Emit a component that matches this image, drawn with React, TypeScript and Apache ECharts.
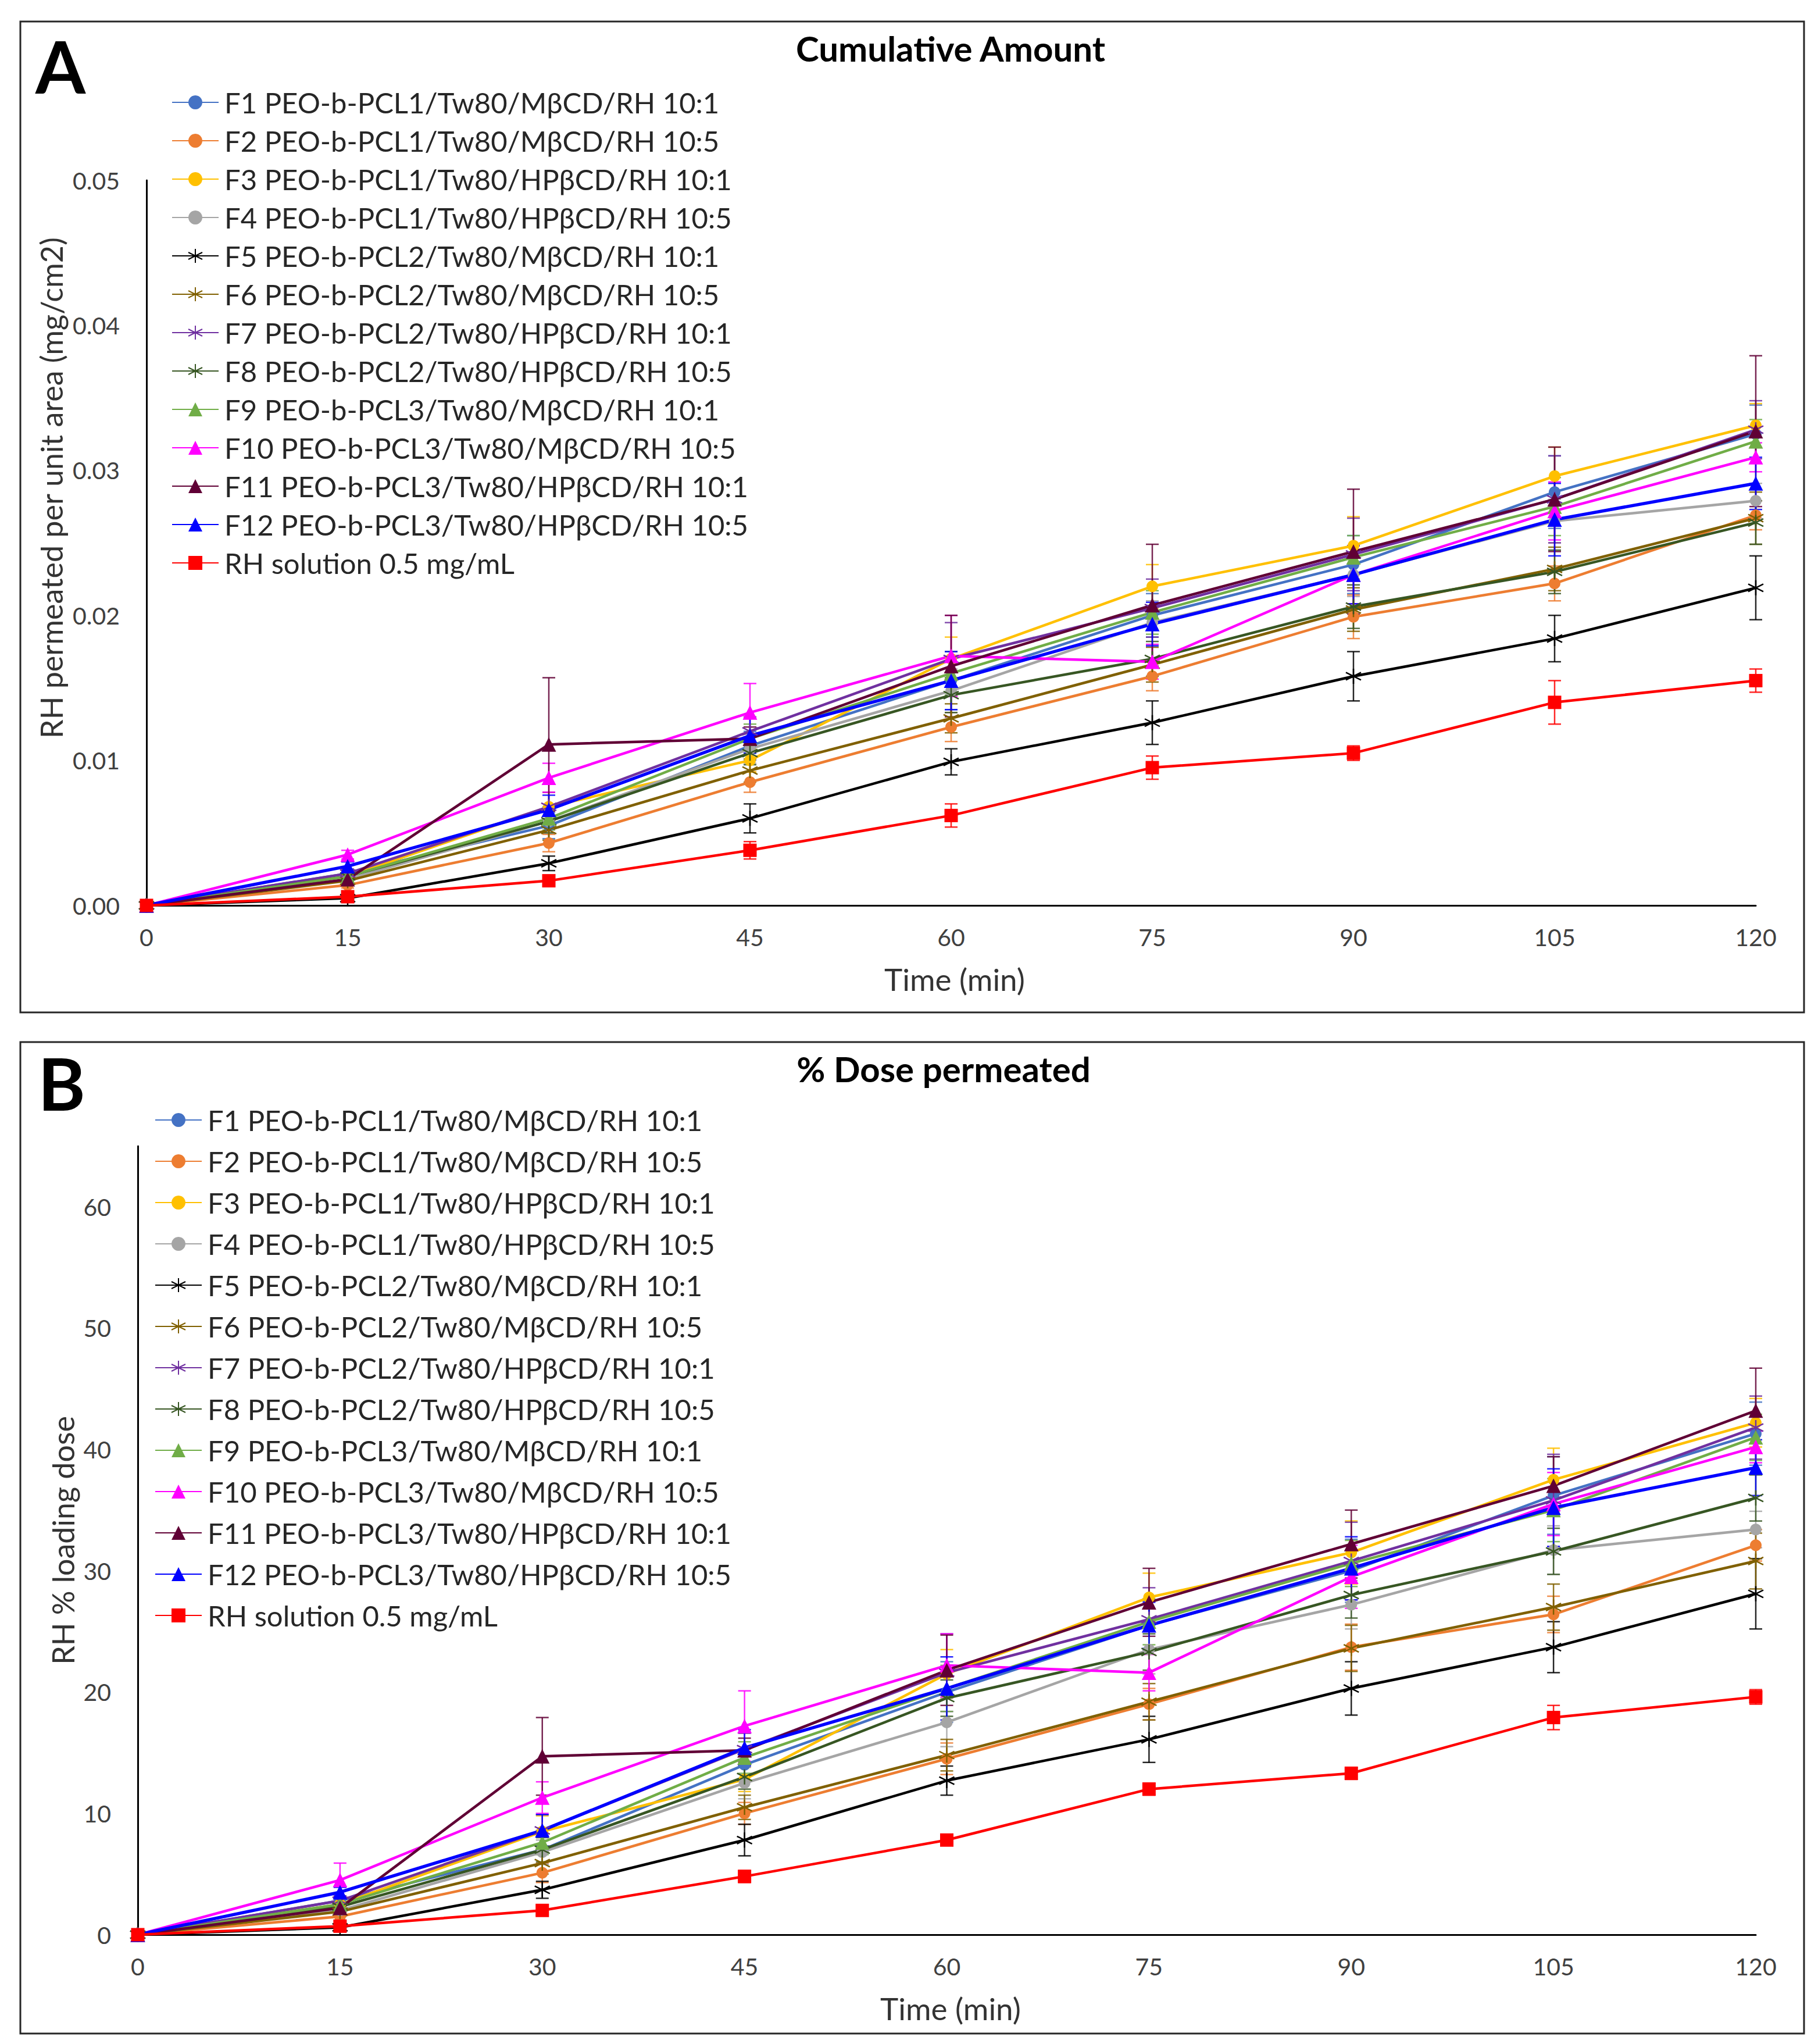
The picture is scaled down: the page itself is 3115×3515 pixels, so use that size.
import React, { useEffect, useRef } from "react";
import * as echarts from "echarts";

// ---------- data ----------
const TIME = [0, 15, 30, 45, 60, 75, 90, 105, 120];
const X_TICKS = [0, 15, 30, 45, 60, 75, 90, 105, 120];

const NAMES = [
  "F1 PEO-b-PCL1/Tw80/MβCD/RH 10:1",
  "F2 PEO-b-PCL1/Tw80/MβCD/RH 10:5",
  "F3 PEO-b-PCL1/Tw80/HPβCD/RH 10:1",
  "F4 PEO-b-PCL1/Tw80/HPβCD/RH 10:5",
  "F5 PEO-b-PCL2/Tw80/MβCD/RH 10:1",
  "F6 PEO-b-PCL2/Tw80/MβCD/RH 10:5",
  "F7 PEO-b-PCL2/Tw80/HPβCD/RH 10:1",
  "F8 PEO-b-PCL2/Tw80/HPβCD/RH 10:5",
  "F9 PEO-b-PCL3/Tw80/MβCD/RH 10:1",
  "F10 PEO-b-PCL3/Tw80/MβCD/RH 10:5",
  "F11 PEO-b-PCL3/Tw80/HPβCD/RH 10:1",
  "F12 PEO-b-PCL3/Tw80/HPβCD/RH 10:5",
  "RH solution 0.5 mg/mL",
];

// Panel A: cumulative amount (mg/cm2)
const A_F1 = [0, 0.0022, 0.0055, 0.011, 0.0155, 0.020, 0.0235, 0.0285, 0.0325];
const A_F2 = [0, 0.0014, 0.0043, 0.0085, 0.0123, 0.0158, 0.0199, 0.0222, 0.0269];
const A_F3 = [0, 0.0020, 0.0068, 0.0100, 0.0170, 0.0220, 0.0248, 0.0296, 0.0331];
const A_F4 = [0, 0.0018, 0.0058, 0.0108, 0.0148, 0.0195, 0.0228, 0.0265, 0.0279];
const A_F5 = [0, 0.0005, 0.0029, 0.0060, 0.0099, 0.0126, 0.0158, 0.0184, 0.0219];
const A_F6 = [0, 0.0017, 0.0052, 0.0093, 0.0129, 0.0166, 0.0204, 0.0232, 0.0267];
const A_F7 = [0, 0.0022, 0.0068, 0.0120, 0.0170, 0.0205, 0.0242, 0.0280, 0.0328];
const A_F8 = [0, 0.0020, 0.0058, 0.0105, 0.0145, 0.0170, 0.0206, 0.0230, 0.0264];
const A_F9 = [0, 0.0020, 0.0060, 0.0115, 0.0160, 0.0202, 0.0240, 0.0275, 0.0320];
const A_F10 = [0, 0.0035, 0.0088, 0.0133, 0.0172, 0.0168, 0.0228, 0.0272, 0.0309];
const A_F11 = [0, 0.0018, 0.0111, 0.0115, 0.0165, 0.0207, 0.0244, 0.0280, 0.0327];
const A_F12 = [0, 0.0027, 0.0066, 0.0117, 0.0155, 0.0194, 0.0228, 0.0266, 0.0291];
const A_RH = [0, 0.0006, 0.0017, 0.0038, 0.0062, 0.0095, 0.0105, 0.0140, 0.0155];

const A_E1 = [0, 0.0003, 0.0009, 0.0010, 0.0020, 0.0015, 0.0020, 0.0025, 0.0020];
const A_E2 = [0, 0.0002, 0.0006, 0.0007, 0.0010, 0.0010, 0.0015, 0.0012, 0.0010];
const A_E3 = [0, 0.0003, 0.0010, 0.0008, 0.0015, 0.0015, 0.0020, 0.0020, 0.0015];
const A_E4 = [0, 0.0003, 0.0008, 0.0010, 0.0015, 0.0015, 0.0015, 0.0015, 0.0012];
const A_E5 = [0, 0.0002, 0.0005, 0.0010, 0.0009, 0.0015, 0.0017, 0.0016, 0.0022];
const A_E6 = [0, 0.0003, 0.0007, 0.0008, 0.0010, 0.0012, 0.0015, 0.0015, 0.0018];
const A_E7 = [0, 0.0003, 0.0010, 0.0010, 0.0025, 0.0020, 0.0025, 0.0030, 0.0020];
const A_E8 = [0, 0.0003, 0.0008, 0.0008, 0.0012, 0.0012, 0.0015, 0.0015, 0.0015];
const A_E9 = [0, 0.0003, 0.0008, 0.0010, 0.0015, 0.0015, 0.0015, 0.0020, 0.0015];
const A_E10 = [0, 0.0003, 0.0010, 0.0020, 0.0028, 0.0012, 0.0020, 0.0020, 0.0010];
const A_E11 = [0, 0.0003, 0.0046, 0.0008, 0.0035, 0.0042, 0.0043, 0.0036, 0.0052];
const A_E12 = [0, 0.0003, 0.0010, 0.0012, 0.0020, 0.0015, 0.0020, 0.0025, 0.0018];
const A_ERH = [0, 0.0002, 0.0003, 0.0006, 0.0008, 0.0008, 0.0005, 0.0015, 0.0008];

// Panel B: % of loading dose
const B_F1 = [0, 2.8, 7.0, 14.0, 20.0, 25.5, 30.0, 36.2, 41.3];
const B_F2 = [0, 1.5, 5.1, 10.0, 14.5, 19.0, 23.7, 26.4, 32.1];
const B_F3 = [0, 2.5, 8.5, 12.8, 21.5, 27.8, 31.5, 37.5, 42.2];
const B_F4 = [0, 2.0, 6.8, 12.5, 17.5, 23.5, 27.2, 31.7, 33.4];
const B_F5 = [0, 0.6, 3.7, 7.8, 12.7, 16.1, 20.3, 23.7, 28.1];
const B_F6 = [0, 1.9, 5.9, 10.5, 14.8, 19.2, 23.6, 27.0, 30.8];
const B_F7 = [0, 2.8, 8.6, 15.3, 21.6, 26.0, 30.8, 35.8, 41.8];
const B_F8 = [0, 2.3, 7.0, 13.0, 19.5, 23.3, 28.0, 31.6, 36.0];
const B_F9 = [0, 2.5, 7.6, 14.6, 20.3, 25.8, 30.6, 35.0, 41.0];
const B_F10 = [0, 4.5, 11.3, 17.2, 22.2, 21.6, 29.5, 35.5, 40.2];
const B_F11 = [0, 2.2, 14.7, 15.2, 21.8, 27.4, 32.2, 37.0, 43.2];
const B_F12 = [0, 3.5, 8.6, 15.4, 20.3, 25.5, 30.2, 35.2, 38.5];
const B_RH = [0, 0.7, 2.0, 4.8, 7.8, 12.0, 13.3, 17.9, 19.6];

const B_E1 = [0, 0.4, 1.2, 1.3, 2.5, 2.0, 2.6, 3.2, 2.6];
const B_E2 = [0, 0.3, 0.8, 0.9, 1.3, 1.3, 1.9, 1.5, 1.3];
const B_E3 = [0, 0.4, 1.3, 1.0, 2.0, 2.0, 2.6, 2.6, 2.0];
const B_E4 = [0, 0.4, 1.0, 1.3, 2.0, 2.0, 2.0, 2.0, 1.5];
const B_E5 = [0, 0.3, 0.7, 1.3, 1.2, 1.9, 2.2, 2.1, 2.9];
const B_E6 = [0, 0.4, 0.9, 1.0, 1.3, 1.5, 1.9, 1.9, 2.3];
const B_E7 = [0, 0.4, 1.3, 1.3, 3.2, 2.6, 3.2, 3.8, 2.6];
const B_E8 = [0, 0.4, 1.0, 1.0, 1.5, 1.5, 1.9, 1.9, 1.9];
const B_E9 = [0, 0.4, 1.0, 1.3, 1.9, 1.9, 1.9, 2.6, 1.9];
const B_E10 = [0, 1.4, 1.3, 2.9, 2.6, 1.5, 2.6, 2.6, 1.3];
const B_E11 = [0, 0.4, 3.2, 1.0, 2.9, 2.8, 2.8, 2.4, 3.5];
const B_E12 = [0, 0.4, 1.3, 1.5, 2.6, 1.9, 2.6, 3.2, 2.3];
const B_ERH = [0, 0.3, 0.4, 0.5, 0.4, 0.5, 0.5, 1.0, 0.6];

const A_MEANS = [A_F1, A_F2, A_F3, A_F4, A_F5, A_F6, A_F7, A_F8, A_F9, A_F10, A_F11, A_F12, A_RH];
const A_ERRS = [A_E1, A_E2, A_E3, A_E4, A_E5, A_E6, A_E7, A_E8, A_E9, A_E10, A_E11, A_E12, A_ERH];
const B_MEANS = [B_F1, B_F2, B_F3, B_F4, B_F5, B_F6, B_F7, B_F8, B_F9, B_F10, B_F11, B_F12, B_RH];
const B_ERRS = [B_E1, B_E2, B_E3, B_E4, B_E5, B_E6, B_E7, B_E8, B_E9, B_E10, B_E11, B_E12, B_ERH];

// ---------- styles ----------
const COLORS = [
  "#4472C4", "#ED7D31", "#FFC000", "#A5A5A5",
  "#000000", "#806000", "#7030A0", "#375623",
  "#70AD47", "#FF00FF", "#600035", "#0000FF", "#FF0000",
];
const ASTERISK = "path://M5,0L5,10M0.67,2.5L9.33,7.5M0.67,7.5L9.33,2.5";
const SYMBOLS = [
  "circle", "circle", "circle", "circle",
  ASTERISK, ASTERISK, ASTERISK, ASTERISK,
  "triangle", "triangle", "triangle", "triangle", "rect",
];
const SYMBOL_SIZES = [20, 20, 20, 20, 26, 26, 26, 26, 25, 25, 25, 25, 23];
const FONT = "Lato, 'Open Sans', sans-serif";

type PanelCfg = {
  means: number[][];
  errs: number[][];
  yMax: number;
  yInterval: number;
  yDecimals: number;
  grid: { left: number; top: number; width: number; height: number };
  legend: { left: number; top: number; gap: number };
  title: string;
  titlePos: [number, number];
  letter: string;
  letterPos: [number, number];
  yName: string;
  yNamePos: [number, number];
  xNamePos: [number, number];
  box: [number, number, number, number];
};

function buildOption(cfg: PanelCfg) {
  const lineSeries = cfg.means.map((vals, i) => ({
    type: "line",
    name: NAMES[i],
    data: TIME.map((t, j) => [t, vals[j]]),
    symbol: SYMBOLS[i],
    symbolSize: SYMBOL_SIZES[i],
    showSymbol: true,
    lineStyle: { color: COLORS[i], width: i === 11 ? 5.5 : 4.5 },
    itemStyle: {
      color: COLORS[i],
      borderColor: COLORS[i],
      borderWidth: SYMBOLS[i] === ASTERISK ? 2.5 : 0,
    },
    z: 3,
    emphasis: { disabled: true },
  }));

  const errData: number[][] = [];
  cfg.means.forEach((vals, i) => {
    vals.forEach((v, j) => {
      const e = cfg.errs[i][j];
      if (e > 0) errData.push([TIME[j], v - e, v + e, i]);
    });
  });

  const errSeries = {
    type: "custom",
    name: "errors",
    data: errData,
    encode: { x: 0, y: [1, 2] },
    z: 2,
    clip: false,
    renderItem: (params: any, api: any) => {
      const x = api.value(0);
      const lo = api.value(1);
      const hi = api.value(2);
      const ci = api.value(3);
      const p1 = api.coord([x, lo]);
      const p2 = api.coord([x, hi]);
      const w = 11;
      const style = { stroke: COLORS[ci], lineWidth: 2.5, opacity: 0.85 };
      return {
        type: "group",
        children: [
          { type: "line", shape: { x1: p1[0], y1: p1[1], x2: p2[0], y2: p2[1] }, style },
          { type: "line", shape: { x1: p1[0] - w, y1: p1[1], x2: p1[0] + w, y2: p1[1] }, style },
          { type: "line", shape: { x1: p2[0] - w, y1: p2[1], x2: p2[0] + w, y2: p2[1] }, style },
        ],
      };
    },
  };

  return {
    animation: false,
    backgroundColor: "#ffffff",
    grid: { ...cfg.grid, containLabel: false },
    xAxis: {
      type: "value",
      min: X_TICKS[0],
      max: X_TICKS[X_TICKS.length - 1],
      interval: 15,
      axisLine: { show: true, onZero: false, lineStyle: { color: "#000000", width: 3 } },
      axisTick: { show: false },
      splitLine: { show: false },
      axisLabel: { color: "#404040", fontFamily: FONT, fontSize: 41, margin: 34 },
    },
    yAxis: {
      type: "value",
      min: 0,
      max: cfg.yMax,
      interval: cfg.yInterval,
      axisLine: { show: true, lineStyle: { color: "#000000", width: 3 } },
      axisTick: { show: false },
      splitLine: { show: false },
      axisLabel: {
        color: "#404040",
        fontFamily: FONT,
        fontSize: 41,
        margin: 46,
        formatter: (v: number) => {
          const k = Math.round(v / cfg.yInterval);
          if (Math.abs(k * cfg.yInterval - v) > 1e-9) return "";
          return v.toFixed(cfg.yDecimals);
        },
      },
    },
    legend: {
      orient: "vertical",
      left: cfg.legend.left,
      top: cfg.legend.top,
      padding: 0,
      itemWidth: 80,
      itemHeight: 30,
      itemGap: cfg.legend.gap,
      data: NAMES,
      selectedMode: false,
      textStyle: {
        color: "#262626",
        fontFamily: FONT,
        fontSize: 49,
        lineHeight: 50,
        padding: [0, 0, 0, 5],
      },
    },
    graphic: [
      {
        type: "rect",
        shape: { x: cfg.box[0], y: cfg.box[1], width: cfg.box[2], height: cfg.box[3] },
        style: { fill: "none", stroke: "#262626", lineWidth: 3 },
        silent: true,
      },
      {
        type: "text",
        x: cfg.letterPos[0],
        y: cfg.letterPos[1],
        style: {
          text: cfg.letter,
          fontFamily: FONT,
          fontWeight: "bold",
          fontSize: 124,
          fill: "#000000",
          align: "center",
          verticalAlign: "middle",
        },
      },
      {
        type: "text",
        x: cfg.titlePos[0],
        y: cfg.titlePos[1],
        style: {
          text: cfg.title,
          fontFamily: FONT,
          fontWeight: "bold",
          fontSize: 60,
          fill: "#000000",
          align: "center",
          verticalAlign: "middle",
        },
      },
      {
        type: "text",
        x: cfg.yNamePos[0],
        y: cfg.yNamePos[1],
        rotation: Math.PI / 2,
        style: {
          text: cfg.yName,
          fontFamily: FONT,
          fontSize: 52,
          fill: "#333333",
          align: "center",
          verticalAlign: "middle",
        },
      },
      {
        type: "text",
        x: cfg.xNamePos[0],
        y: cfg.xNamePos[1],
        style: {
          text: "Time (min)",
          fontFamily: FONT,
          fontSize: 53,
          fill: "#333333",
          align: "center",
          verticalAlign: "middle",
        },
      },
    ],
    series: [errSeries, ...lineSeries],
  };
}

const PANEL_A: PanelCfg = {
  means: A_MEANS,
  errs: A_ERRS,
  yMax: 0.05,
  yInterval: 0.01,
  yDecimals: 2,
  grid: { left: 244, top: 302, width: 2768, height: 1247 },
  legend: { left: 287, top: 143, gap: 16 },
  title: "Cumulative Amount",
  titlePos: [1627, 75],
  letter: "A",
  letterPos: [96, 105],
  yName: "RH permeated per unit area (mg/cm2)",
  yNamePos: [80, 831],
  xNamePos: [1634, 1675],
  box: [27, 29, 3068, 1704],
};

const PANEL_B: PanelCfg = {
  means: B_MEANS,
  errs: B_ERRS,
  yMax: 65,
  yInterval: 10,
  yDecimals: 0,
  grid: { left: 229, top: 206, width: 2783, height: 1356 },
  legend: { left: 258, top: 136, gap: 21 },
  title: "% Dose permeated",
  titlePos: [1615, 73],
  letter: "B",
  letterPos: [98, 97],
  yName: "RH % loading dose",
  yNamePos: [100, 884],
  xNamePos: [1627, 1688],
  box: [27, 27, 3068, 1705],
};

function Panel({ cfg, top, height }: { cfg: PanelCfg; top: number; height: number }) {
  const ref = useRef<HTMLDivElement>(null);
  useEffect(() => {
    if (!ref.current) return;
    const chart = echarts.init(ref.current, undefined, { renderer: "svg" });
    chart.setOption(buildOption(cfg) as any);
    return () => chart.dispose();
  }, [cfg]);
  return (
    <div
      ref={ref}
      style={{ position: "absolute", left: 0, top, width: 3115, height }}
    />
  );
}

export default function App() {
  return (
    <div style={{ position: "relative", width: 3115, height: 3515, background: "#fff" }}>
      <Panel cfg={PANEL_A} top={0} height={1757} />
      <Panel cfg={PANEL_B} top={1757} height={1758} />
    </div>
  );
}
